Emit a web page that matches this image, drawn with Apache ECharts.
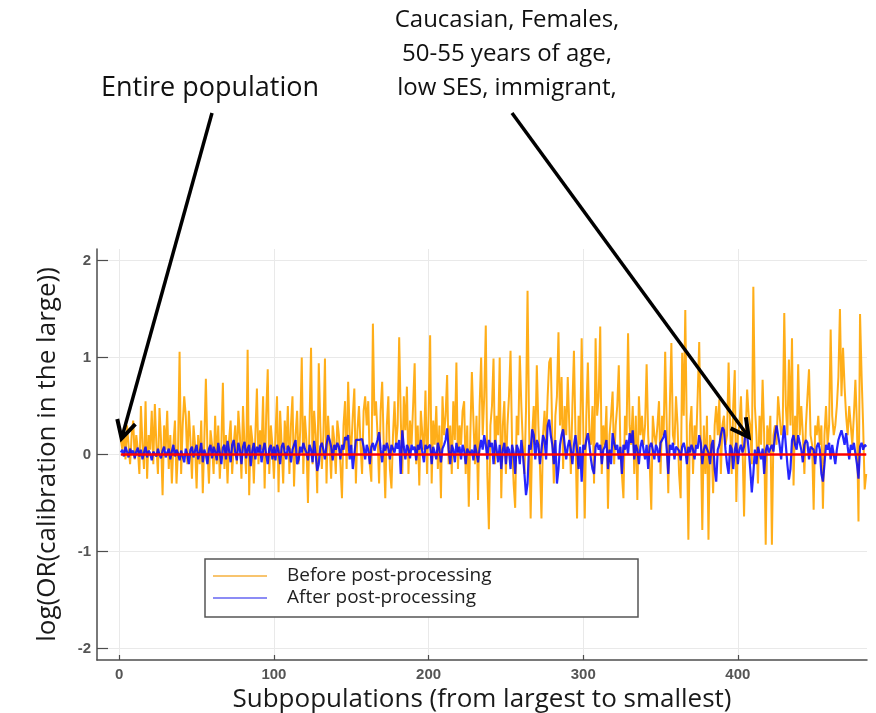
<!DOCTYPE html>
<html>
<head>
<meta charset="utf-8">
<script src="https://cdn.jsdelivr.net/npm/echarts@6/dist/echarts.min.js"></script>
<style>
html,body{margin:0;padding:0;background:#fff;}
#chart{width:876px;height:713px;}
</style>
</head>
<body>
<div id="chart"></div>
<script>
var xTicks = [0, 100, 200, 300, 400];
var yTicks = [-2, -1, 0, 1, 2];
var refLevel = 0;

// log(OR) before post-processing, subpopulation 1..483
var before = [
 0.15, 0.05, 0.25, -0.05, 0.3, 0.1, -0.1, 0.2, 0.35, -0.05,
 0.2, 0.05, -0.2, 0.5, 0.1, -0.15, 0.55, -0.25, 0.2, 0.05,
 0.45, -0.1, 0.52, 0.1, -0.2, 0.48, 0.15, -0.42, 0.3, 0.05,
 0.45, -0.15, 0.2, -0.3, 0.1, 0.35, -0.3, 0.05, 1.06, -0.2,
 0.3, 0.6, 0.4, -0.1, 0.45, 0.15, -0.25, 0.3, 0.1, -0.35,
 0.2, -0.1, 0.35, -0.4, 0.15, 0.78, 0.05, -0.3, 0.25, 0.1,
 -0.2, 0.4, -0.1, 0.3, -0.25, 0.1, 0.74, -0.15, 0.2, -0.3,
 0.15, 0.35, -0.2, 0.1, 0.3, -0.1, 0.45, 0.2, -0.25, 0.5,
 0.1, -0.2, 1.08, -0.42, 0.3, 0.15, -0.3, 0.2, 0.68, -0.1,
 0.25, 0.05, 0.6, -0.35, 0.4, 0.88, -0.2, 0.3, 0.1, -0.25,
 0.2, 0.6, -0.39, 0.45, 0.1, -0.3, 0.35, 0.05, 0.5, -0.2,
 0.3, 0.6, -0.33, 0.2, 0.45, -0.1, 0.25, 1.0, -0.2, 0.4,
 0.15, -0.5, 0.3, 1.1, -0.1, 0.45, 0.2, -0.4, 0.94, 0.3,
 -0.15, 0.2, 0.99, -0.3, 0.4, 0.1, -0.25, 0.3, 0.15, -0.2,
 0.35, 0.2, -0.1, -0.45, 0.3, 0.55, -0.15, 0.75, 0.2, 0.05,
 0.4, 0.68, -0.3, 0.25, 0.5, 0.1, -0.2, 0.45, 0.6, 0.3,
 0.55, -0.1, -0.28, 1.35, 0.4, 0.55, 0.2, -0.3, 0.45, 0.75,
 0.1, -0.45, 0.3, 0.6, -0.15, -0.35, 0.2, 0.55, 0.1, 0.3,
 1.21, 0.4, -0.2, 0.6, 0.25, 0.7, -0.2, 0.35, 0.1, 0.5,
 0.94, -0.1, 0.3, -0.32, 0.45, 0.2, 0.05, 0.66, -0.2, 0.4,
 1.23, -0.3, 0.35, 0.1, 0.5, -0.15, 0.3, -0.45, 0.6, 0.2,
 0.4, 0.82, -0.1, 0.3, -0.2, 0.55, 0.15, 0.95, -0.15, 0.3,
 0.1, 0.45, 0.55, -0.2, 0.3, -0.54, 0.2, 0.85, 0.35, -0.1,
 0.4, -0.47, 0.5, 1.0, 0.2, 0.6, 1.33, -0.2, -0.77, 0.3,
 0.5, 0.99, -0.1, 0.4, 0.2, 1.0, -0.45, 0.3, 0.55, -0.2,
 0.3, 0.6, 1.07, 0.1, -0.3, -0.55, 0.4, 0.2, 1.02, 0.5,
 0.1, -0.2, 0.45, 1.69, 0.3, -0.66, 0.2, 0.5, 0.1, 0.92,
 0.3, -0.1, -0.66, 0.2, 0.45, 0.1, 0.6, 0.95, 1.0, 0.2,
 -0.3, 0.4, 0.6, 1.26, 0.3, 0.8, -0.15, 0.5, 0.2, 0.8,
 0.3, -0.2, 0.5, 1.07, 0.2, -0.66, 0.4, 0.1, 1.2, 0.3,
 -0.66, 0.4, 0.95, 0.2, 0.1, 0.5, -0.3, 1.2, 0.4, 0.6,
 1.32, -0.2, 0.3, 0.1, 0.5, -0.56, 0.2, 0.4, 0.65, -0.1,
 0.3, 0.5, 0.92, 0.1, -0.2, -0.45, 0.4, 0.2, 1.25, 0.3,
 0.1, 0.5, -0.2, 0.4, -0.47, 0.6, 0.2, 0.4, 0.1, 0.3,
 0.93, 0.2, -0.1, -0.57, 0.4, 0.2, 0.1, 0.3, 0.55, -0.2,
 0.4, 0.2, 1.06, 0.3, -0.4, 0.5, 1.15, 0.2, 0.1, 0.6,
 0.3, -0.2, -0.45, 1.05, 0.4, 1.49, 0.2, -0.88, 0.3, 0.5,
 -0.2, 0.3, 0.1, 0.6, 1.16, 0.2, -0.78, 0.3, -0.2, 0.4,
 -0.88, 0.2, 0.1, -0.4, 0.3, 0.5, 0.2, 0.57, -0.2, 0.3,
 0.4, 0.1, 0.2, 0.95, 0.3, -0.2, 0.5, 0.87, -0.49, 0.2,
 0.3, 0.6, 0.1, -0.64, 0.2, 0.67, 0.4, 0.3, -0.1, 1.73,
 0.5, 0.2, -0.3, 0.4, 0.1, 0.77, 0.2, -0.93, 0.3, 0.1,
 0.4, -0.93, 0.2, 0.3, 0.1, 0.6, 0.4, 0.2, 0.3, 1.46,
 0.5, 0.2, 0.98, 0.3, 1.2, -0.32, 0.4, 0.1, 0.93, 0.2,
 0.5, 0.2, -0.2, 0.3, 0.6, 0.88, 0.2, 0.1, -0.57, 0.3,
 0.2, 0.4, 0.1, 0.3, -0.56, 0.2, 0.5, 0.1, 0.3, 1.29,
 0.4, 0.2, 0.3, 0.5, 0.8, 1.5, 0.6, 1.1, 0.7, 0.4,
 0.2, 0.5, 0.3, 0.1, 0.4, 0.77, 0.3, -0.69, 1.45, 0.82,
 0.3, -0.36, -0.2
];

// log(OR) after post-processing
var after = [
 0.02, 0.05, -0.02, 0.08, 0.03, -0.03, 0.06, 0.01, 0.04, -0.04,
 0.03, 0.07, -0.02, 0.05, -0.05, 0.02, 0.08, -0.03, 0.04, 0.01,
 -0.06, 0.03, 0.05, -0.02, 0.06, 0.0, -0.04, 0.04, 0.08, -0.03,
 0.02, 0.06, -0.05, 0.03, 0.1, -0.02, 0.05, 0.01, -0.06, 0.04,
 0.02, -0.08, 0.06, 0.0, -0.1, 0.05, 0.08, -0.03, 0.04, 0.1,
 -0.05, 0.02, 0.12, -0.08, 0.05, 0.0, -0.1, 0.06, 0.1, -0.04,
 0.08, 0.03, -0.06, 0.12, 0.02, -0.1, 0.07, 0.1, -0.05, 0.14,
 0.04, -0.08, 0.1, 0.15, 0.02, -0.06, 0.12, 0.05, -0.1, 0.08,
 0.13, -0.04, 0.06, 0.1, -0.12, 0.04, 0.12, -0.05, 0.08, 0.02,
 0.1, -0.08, 0.05, 0.12, 0.0, -0.1, 0.06, 0.1, -0.05, 0.08,
 -0.06, 0.1, 0.04, -0.1, 0.08, 0.12, 0.02, -0.05, 0.09, 0.06,
 -0.08, 0.05, 0.1, 0.15, -0.1, -0.05, 0.08, 0.02, 0.12, 0.06,
 0.02, -0.06, 0.1, 0.05, -0.08, 0.14, 0.0, -0.17, -0.1, 0.08,
 0.12, 0.05, -0.05, 0.1, 0.2, 0.15, 0.08, -0.06, 0.1, 0.05,
 0.12, 0.08, -0.05, 0.1, 0.05, 0.18, 0.15, 0.2, -0.05, 0.1,
 -0.15, 0.0, 0.15, 0.16, 0.15, 0.14, 0.16, 0.08, -0.05, 0.1,
 0.05, -0.1, 0.08, 0.12, 0.04, 0.1, 0.15, 0.23, 0.05, -0.08,
 0.1, 0.04, 0.12, 0.06, -0.05, 0.1, 0.08, 0.02, 0.12, 0.06,
 0.15, -0.2, 0.25, 0.08, -0.05, 0.1, 0.06, -0.04, 0.1, 0.05,
 0.08, -0.06, 0.1, 0.05, 0.15, 0.02, -0.08, 0.1, 0.06, 0.04,
 0.1, -0.1, 0.08, 0.02, -0.05, 0.12, 0.05, -0.08, 0.06, 0.1,
 0.15, 0.27, 0.05, -0.1, 0.1, 0.05, -0.08, 0.12, 0.02, 0.08,
 -0.05, 0.1, 0.04, -0.1, 0.06, 0.08, 0.0, 0.05, -0.06, 0.1,
 0.02, -0.08, 0.06, 0.15, 0.05, 0.2, 0.1, -0.05, 0.15, 0.08,
 0.12, -0.1, 0.15, 0.05, -0.08, 0.1, -0.15, 0.05, 0.12, -0.1,
 0.08, 0.05, -0.15, 0.1, 0.02, -0.2, 0.1, 0.05, -0.1, 0.15,
 0.0, -0.2, -0.42, -0.3, 0.1, 0.05, 0.26, 0.2, -0.05, 0.15,
 0.1, -0.1, 0.05, 0.2, 0.15, -0.05, 0.3, 0.36, 0.2, 0.1,
 -0.1, 0.15, -0.3, -0.15, 0.1, 0.2, 0.26, 0.1, -0.05, 0.08,
 0.15, 0.05, -0.1, 0.1, 0.2, 0.05, -0.15, 0.08, -0.28, 0.1,
 0.05, 0.15, 0.22, 0.1, -0.05, -0.15, -0.2, 0.08, 0.12, 0.05,
 0.1, -0.1, 0.05, 0.08, 0.15, -0.15, 0.05, -0.1, 0.22, 0.12,
 0.05, 0.1, -0.05, 0.08, -0.2, 0.1, 0.05, 0.15, 0.0, 0.22,
 0.12, 0.25, -0.05, 0.1, 0.05, -0.1, 0.08, 0.15, 0.05, -0.05,
 0.1, -0.15, 0.08, 0.12, 0.05, -0.05, 0.1, 0.06, -0.08, 0.12,
 0.1, 0.18, 0.25, 0.05, -0.2, 0.1, 0.05, 0.12, -0.05, 0.08,
 0.1, 0.04, -0.06, 0.08, 0.12, 0.05, -0.1, 0.08, 0.02, 0.1,
 0.05, -0.05, 0.1, 0.06, 0.2, 0.12, -0.1, 0.05, 0.1, 0.08,
 0.02, -0.1, 0.1, 0.15, -0.15, -0.28, 0.05, 0.1, 0.2, 0.28,
 0.25, 0.05, -0.1, -0.2, 0.1, 0.06, -0.15, 0.05, 0.12, -0.1,
 0.05, 0.1, 0.02, 0.08, 0.25, 0.2, 0.05, -0.15, -0.39, -0.2,
 0.05, -0.1, 0.08, 0.02, -0.05, 0.06, -0.2, 0.04, 0.1, 0.02,
 0.06, 0.1, 0.03, 0.2, 0.3, 0.28, 0.1, -0.05, 0.15, 0.3,
 0.1, -0.1, -0.26, -0.15, 0.15, 0.2, 0.1, 0.05, 0.2, 0.12,
 0.05, -0.08, 0.1, 0.15, 0.12, -0.05, 0.08, 0.1, 0.05, -0.1,
 0.08, 0.12, 0.05, -0.2, -0.28, -0.1, 0.1, 0.05, 0.12, -0.05,
 0.1, 0.08, -0.1, 0.05, 0.15, 0.2, 0.25, 0.18, 0.1, 0.22,
 0.08, -0.05, 0.1, 0.05, 0.12, 0.1, -0.1, -0.25, 0.08, 0.12,
 0.05, 0.1, 0.08
];

var font = '"Open Sans", "Noto Sans", sans-serif';
var axisGray = '#4d4d4d';

var beforeData = [], afterData = [], refData = [];
for (var i = 0; i < before.length; i++) {
	beforeData.push([i + 1, before[i]]);
	afterData.push([i + 1, after[i]]);
	refData.push([i + 1, refLevel]);
}

var myChart = echarts.init(document.getElementById('chart'));
var option = {
	animation: false,
	backgroundColor: '#fff',
	textStyle: { fontFamily: font },
	grid: { left: 97, right: 9, top: 249, bottom: 53, containLabel: false, outerBoundsMode: 'none' },
	legend: {
		orient: 'vertical',
		left: 213,
		top: 565,
		padding: 0,
		itemGap: 0,
		itemWidth: 54,
		itemHeight: 2,
		textStyle: { fontSize: 19, color: '#222', fontFamily: font, padding: [0, 0, 0, 15], lineHeight: 22 },
		data: [
			{ name: 'Before post-processing', icon: 'rect', itemStyle: { color: '#f8c46e' } },
			{ name: 'After post-processing', icon: 'rect', itemStyle: { color: '#8c8cf5' } }
		]
	},
	xAxis: {
		type: 'value',
		min: -14.4,
		max: 483.5,
		name: 'Subpopulations (from largest to smallest)',
		nameLocation: 'middle',
		nameGap: 22,
		nameTextStyle: { fontSize: 26, color: '#1a1a1a', fontFamily: font },
		axisLine: { onZero: false, lineStyle: { color: axisGray, width: 1.5 } },
		axisTick: { inside: true, length: 5, customValues: xTicks, lineStyle: { color: axisGray, width: 1.2 } },
		axisLabel: { customValues: xTicks, color: '#555', fontSize: 15, fontWeight: 'bold', margin: 7, fontFamily: '"Liberation Sans", Arial, sans-serif' },
		splitLine: { show: true, lineStyle: { color: '#e9e9e9', width: 1 } }
	},
	yAxis: {
		type: 'value',
		min: -2.12,
		max: 2.12,
		name: 'log(OR(calibration in the large))',
		nameLocation: 'middle',
		nameGap: 36,
		nameTextStyle: { fontSize: 26, color: '#1a1a1a', fontFamily: font },
		axisLine: { onZero: false, lineStyle: { color: axisGray, width: 1.5 } },
		axisTick: { inside: true, length: 11, customValues: yTicks, lineStyle: { color: axisGray, width: 1.2 } },
		axisLabel: { customValues: yTicks, color: '#555', fontSize: 15, fontWeight: 'bold', margin: 6, fontFamily: '"Liberation Sans", Arial, sans-serif' },
		splitLine: { show: true, lineStyle: { color: '#e9e9e9', width: 1 } }
	},
	series: [
		{
			name: 'Before post-processing',
			type: 'line',
			showSymbol: false,
			data: beforeData,
			z: 2,
			color: '#FFA500',
			lineStyle: { color: '#FFA500', width: 2, opacity: 0.9 }
		},
		{
			name: 'After post-processing',
			type: 'line',
			showSymbol: false,
			data: afterData,
			z: 3,
			color: '#0000FF',
			lineStyle: { color: '#0000ff', width: 2.2, opacity: 0.85 }
		},
		{
			name: 'reference',
			type: 'line',
			showSymbol: false,
			data: refData,
			z: 4,
			lineStyle: { color: '#FF0000', width: 2.6 }
		}
	]
};
myChart.setOption(option);

/* 注释箭头 */
function arrowGraphic(from, tip) {
	var dx = from[0] - tip[0], dy = from[1] - tip[1];
	var len = Math.sqrt(dx * dx + dy * dy);
	var ux = dx / len, uy = dy / len;
	var a = 28 * Math.PI / 180, L = 20;
	var p1 = [tip[0] + L * (ux * Math.cos(a) - uy * Math.sin(a)), tip[1] + L * (ux * Math.sin(a) + uy * Math.cos(a))];
	var p2 = [tip[0] + L * (ux * Math.cos(-a) - uy * Math.sin(-a)), tip[1] + L * (ux * Math.sin(-a) + uy * Math.cos(-a))];
	return [
		{ type: 'line', z: 10, shape: { x1: from[0], y1: from[1], x2: tip[0], y2: tip[1] }, style: { stroke: '#000', lineWidth: 3.5 } },
		{ type: 'polyline', z: 10, shape: { points: [p1, tip, p2] }, style: { stroke: '#000', lineWidth: 4, fill: null, lineJoin: 'miter' } }
	];
}

var tip1 = myChart.convertToPixel({ gridIndex: 0 }, [1.5, 0.165]);
var tip2 = myChart.convertToPixel({ gridIndex: 0 }, [407, 0.18]);

var elements = [
	{ type: 'rect', z: 3, shape: { x: 205, y: 559, width: 433, height: 58 }, style: { fill: '#fff', stroke: '#555', lineWidth: 1.5 } },
	{ type: 'text', z: 10, style: { text: 'Entire population', x: 210, y: 88, fill: '#111', font: '27px ' + font, textAlign: 'center', textVerticalAlign: 'middle', align: 'center', verticalAlign: 'middle' } },
	{ type: 'text', z: 10, style: { text: 'Caucasian, Females,', x: 507, y: 20, fill: '#111', font: '24px ' + font, textAlign: 'center', textVerticalAlign: 'middle', align: 'center', verticalAlign: 'middle' } },
	{ type: 'text', z: 10, style: { text: '50-55 years of age,', x: 507, y: 54, fill: '#111', font: '24px ' + font, textAlign: 'center', textVerticalAlign: 'middle', align: 'center', verticalAlign: 'middle' } },
	{ type: 'text', z: 10, style: { text: 'low SES, immigrant,', x: 507, y: 88, fill: '#111', font: '24px ' + font, textAlign: 'center', textVerticalAlign: 'middle', align: 'center', verticalAlign: 'middle' } }
];
elements = elements.concat(arrowGraphic([212, 113], tip1), arrowGraphic([512, 113], tip2));
myChart.setOption({ graphic: { elements: elements } });
</script>
</body>
</html>
